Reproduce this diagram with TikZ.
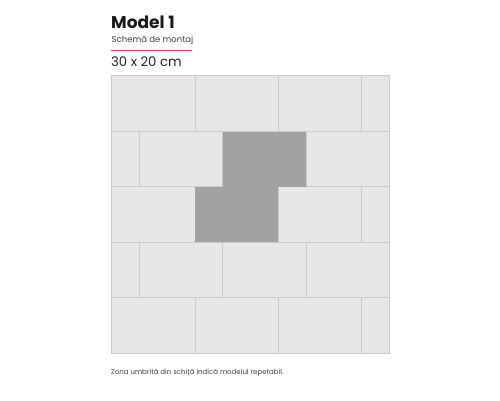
\documentclass[tikz,border=0pt]{standalone}
\usepackage{fontspec}
\setmainfont{Poppins}
\definecolor{tilefill}{HTML}{E7E7E7}
\definecolor{tileline}{HTML}{C9C9C9}
\definecolor{tiledark}{HTML}{A2A2A2}
\definecolor{accentred}{HTML}{D9534F}
\begin{document}
\begin{tikzpicture}[x=1pt,y=-1pt,
  txt/.style={anchor=base west,inner sep=0pt,text=black!90},
  tile/.style={fill=tilefill,draw=tileline,line width=0.8pt},
  darktile/.style={fill=tiledark,draw=none}]
\useasboundingbox (0,0) rectangle (500,400);
\pgfmathsetmacro{\L}{111.7}
\pgfmathsetmacro{\T}{75.5}
\pgfmathsetmacro{\W}{83.28}
\pgfmathsetmacro{\H}{55.56}
\node[txt,font=\bfseries\fontsize{17}{20}\selectfont] (title) at (111,28) {Model 1};
\node[txt,font=\fontsize{8.5}{10}\selectfont,text=black!75] (sub) at (111.5,42) {Schemă de montaj};
\coordinate (r1) at (111,50.5);
\coordinate (r2) at (192,50.5);
\draw[accentred,line width=0.9pt] (r1) -- (r2);
\node[txt,font=\fontsize{13.2}{15}\selectfont,text=black!85] (size) at (111,66) {30 x 20 cm};
\begin{scope}
\clip (\L,\T) rectangle ({\L+3.3333*\W},{\T+5*\H});
\foreach \r in {0,...,4}{
  \pgfmathsetmacro{\off}{mod(\r,2)*\W/3}
  \foreach \k in {-1,...,3}{
    \draw[tile] ({\L+\off+\k*\W},{\T+\r*\H}) rectangle ++(\W,\H);
  }
}
\fill[darktile] ({\L+\W/3+\W},{\T+\H+0.5}) rectangle ({\L+\W/3+2*\W-0.5},{\T+2*\H});
\fill[darktile] ({\L+\W},{\T+2*\H}) rectangle ({\L+2*\W-0.5},{\T+3*\H-0.5});
\end{scope}
\draw[tileline,line width=1pt] (\L,\T) rectangle ({\L+3.3333*\W},{\T+5*\H});
\node[txt,font=\fontsize{7}{8}\selectfont,text=black!75] (note) at (111,374) {Zona umbrită din schiță indică modelul repetabil.};
\end{tikzpicture}
\end{document}
